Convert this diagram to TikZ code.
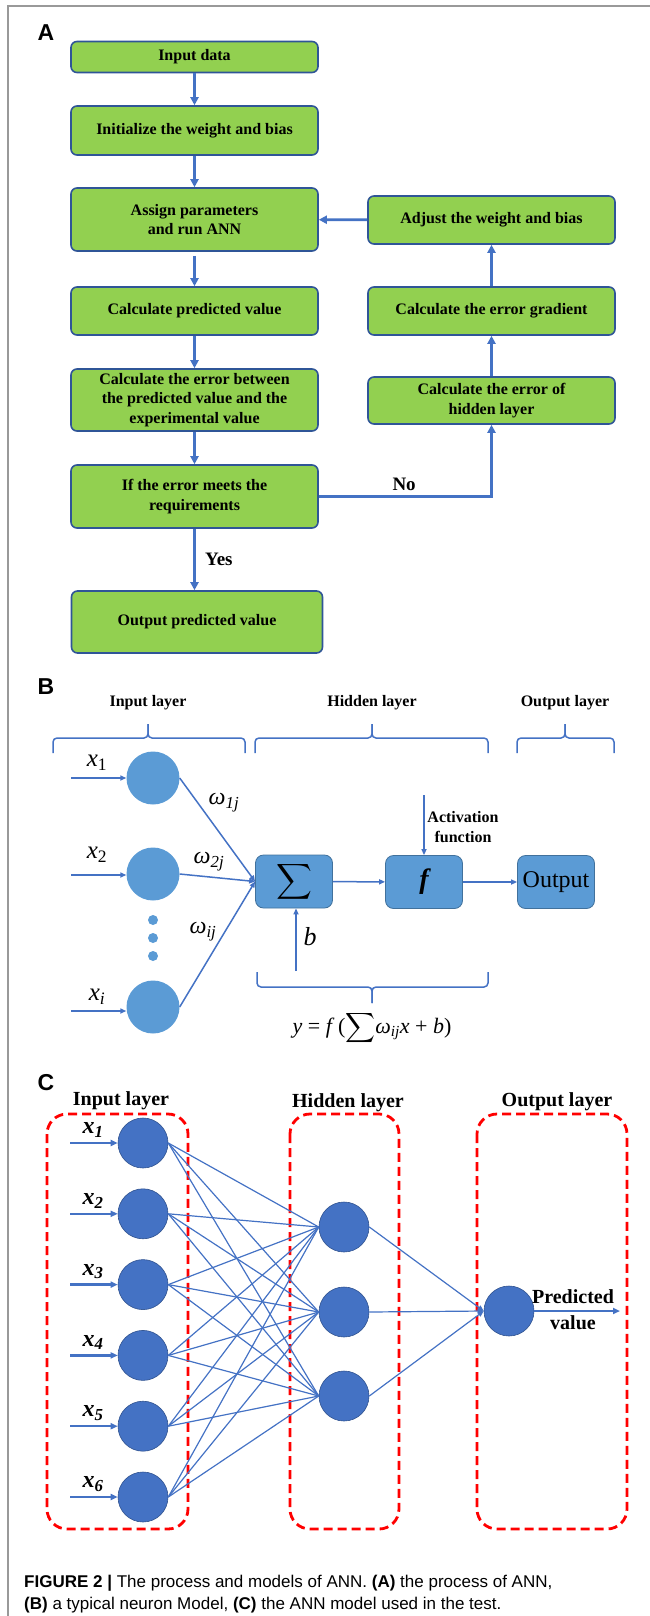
\documentclass[tikz,border=0pt]{standalone}
\usepackage{exscale}
\usepackage{fontspec}
\setmainfont{Liberation Serif}
\setsansfont{Liberation Sans}
\usetikzlibrary{arrows.meta}

\definecolor{agreen}{RGB}{146,208,80}
\definecolor{aborder}{RGB}{47,85,151}
\definecolor{ablue}{RGB}{68,114,196}
\definecolor{bfill}{RGB}{91,155,213}
\definecolor{bborder}{RGB}{65,113,156}
\definecolor{cborder}{RGB}{47,82,143}
\newcommand{\fsz}[2]{\fontsize{#1}{#2}\selectfont}

\tikzset{
  flowbox/.style={draw=aborder, fill=agreen, line width=1.6pt, rounded corners=6pt,
    align=center, inner sep=0pt, font=\bfseries\fsz{16}{19.5}},
  flowarr/.style={draw=ablue, line width=2.6pt, -{Triangle[length=8pt,width=8pt]}},
  bline/.style={draw=ablue, line width=1.5pt},
  barr/.style={bline, -{Triangle[length=6pt,width=5pt]}},
  bbox/.style={draw=bborder, fill=bfill, line width=0.8pt, rounded corners=8pt,
    minimum width=77pt, minimum height=53pt, inner sep=0pt},
  bneuron/.style={circle, fill=bfill, minimum size=53pt, inner sep=0pt},
  cneuron/.style={circle, draw=cborder, fill=ablue, line width=0.6pt, minimum size=50pt, inner sep=0pt},
  cline/.style={draw=ablue, line width=1.2pt},
  carr/.style={draw=ablue, line width=2.5pt, -{Triangle[length=7pt,width=6pt]}},
  layerbox/.style={draw=red, line width=2.8pt, dash pattern=on 9pt off 5pt, rounded corners=20pt},
  panel/.style={font=\sffamily\bfseries\fsz{23}{26}}
}

\begin{document}
\begin{tikzpicture}[x=1pt,y=-1pt]
\useasboundingbox (0,0) rectangle (650,1616);
\draw[gray!80, line width=1.5pt] (650,6) -- (8,6) -- (8,1616);

% (A) the process
\node[panel] (pa) at (46,33) {A};
\node[flowbox, minimum width=247pt, minimum height=31pt] (input) at (194.5,57) {Input data};
\node[flowbox, minimum width=247pt, minimum height=49pt] (init) at (194.5,130.5) {Initialize the weight and bias};
\node[flowbox, minimum width=247pt, minimum height=63pt] (assign) at (194.5,219.5) {Assign parameters\\and run ANN};
\node[flowbox, minimum width=247pt, minimum height=48pt] (calcpred) at (194.5,311) {Calculate predicted value};
\node[flowbox, minimum width=247pt, minimum height=62pt] (calcerr) at (194.5,400) {Calculate the error between\\the predicted value and the\\experimental value};
\node[flowbox, minimum width=247pt, minimum height=63pt] (ifbox) at (194.5,496.5) {If the error meets the\\requirements};
\node[flowbox, minimum width=251pt, minimum height=62pt] (outbox) at (197,622) {Output predicted value};
\node[flowbox, minimum width=247pt, minimum height=48pt] (adjust) at (491.5,220) {Adjust the weight and bias};
\node[flowbox, minimum width=247pt, minimum height=48pt] (gradient) at (491.5,311) {Calculate the error gradient};
\node[flowbox, minimum width=247pt, minimum height=47pt] (hidlayer) at (491.5,400.5) {Calculate the error of\\hidden layer};

\draw[flowarr] (input) -- (init);
\draw[flowarr] (init) -- (assign);
\draw[flowarr, shorten <=4pt] (assign) -- (calcpred);
\draw[flowarr] (calcpred) -- (calcerr);
\draw[flowarr] (calcerr) -- (ifbox);
\draw[flowarr] (ifbox.south) -- node[right=6pt, font=\bfseries\fsz{19}{22}] {Yes} (ifbox.south |- outbox.north);
\draw[flowarr] (ifbox.east) -| node[pos=0.247, above=1pt, font=\bfseries\fsz{19}{22}] {No} (hidlayer.south);
\draw[flowarr] (hidlayer) -- (gradient);
\draw[flowarr] (gradient) -- (adjust);
\draw[flowarr] (adjust) -- (assign);

% (B) a typical neuron
\node[panel] (pb) at (46,687) {B};
\node[font=\bfseries\fsz{16}{19}] (binl) at (148,703) {Input layer};
\node[font=\bfseries\fsz{16}{19}] (bhid) at (372,703) {Hidden layer};
\node[font=\bfseries\fsz{16}{19}] (bout) at (565,703) {Output layer};
\foreach \a/\m/\b in {53/148/245, 255/372/488, 517/565/614} {
  \draw[bline, rounded corners=4pt] (\a,753) -- (\a,738) -- (\m,738) -- (\m,724);
  \draw[bline, rounded corners=4pt] (\b,753) -- (\b,738) -- (\m,738) -- (\m,724);
}
\draw[bline, rounded corners=4pt] (257,972) -- (257,987) -- (372,987) -- (372,1003);
\draw[bline, rounded corners=4pt] (488,972) -- (488,987) -- (372,987) -- (372,1003);

\node[bneuron] (bn1) at (153,778) {};
\node[bneuron] (bn2) at (153,874) {};
\node[bneuron] (bni) at (153,1007) {};
\foreach \y in {920,938,956}
  \fill[bfill] (153,\y) circle (5pt);

\coordinate (bx1) at (71,778);
\coordinate (bx2) at (71,875);
\coordinate (bxi) at (71,1011);
\draw[barr] (bx1) -- (bn1.west);
\draw[barr] (bx2) -- (bn2.west |- bx2);
\draw[barr] (bxi) -- (bni.west |- bxi);
\node[font=\itshape\fsz{25}{28}] (lx1) at (97,763) {x\textsubscript{\upshape 1}};
\node[font=\itshape\fsz{25}{28}] (lx2) at (97,855) {x\textsubscript{\upshape 2}};
\node[font=\itshape\fsz{25}{28}] (lxi) at (97,997) {x\textsubscript{i}};

\node[bbox] (sum) at (294,881.5) {\fsz{24}{28}$\displaystyle\sum$};
\node[bbox] (fbox) at (424,882) {\fsz{28}{30}\bfseries\itshape f};
\node[bbox, font=\fsz{24}{28}] (outp) at (556,882) {Output};

\draw[barr] (bn1.east) -- (sum.west);
\draw[barr] (bn2.east) -- (sum.west);
\draw[barr] (bni.east) -- (sum.west);
\node[font=\itshape\fsz{24}{28}] (w1) at (224,803) {ω\textsubscript{1j}};
\node[font=\itshape\fsz{24}{28}] (w2) at (209,862) {ω\textsubscript{2j}};
\node[font=\itshape\fsz{24}{28}] (wi) at (203,932) {ω\textsubscript{ij}};

\draw[barr] (sum) -- (fbox);
\draw[barr] (fbox) -- (outp);
\coordinate (act) at (424,795);
\draw[barr] (act) -- (fbox.north);
\node[font=\bfseries\fsz{16}{20}, align=center] (actl) at (463,827) {Activation\\function};
\coordinate (bias) at (296,971);
\draw[barr] (bias) -- (bias |- sum.south);
\node[font=\itshape\fsz{26}{28}] (bl) at (310,937) {b};
\node[font=\fsz{22}{26}] (formula) at (372,1028)
  {\textit{y} = \textit{f}\,($\displaystyle\sum$\textit{ω}\textsubscript{\textit{ij}}\textit{x} + \textit{b})};

% (C) the ANN model
\node[panel] (pc) at (46,1083) {C};
\draw[layerbox] (47,1114) rectangle (188,1529);
\draw[layerbox] (290,1114) rectangle (399,1529);
\draw[layerbox] (477,1114) rectangle (627,1529);
\node[font=\bfseries\fsz{20}{24}] (cinl) at (121,1101) {Input layer};
\node[font=\bfseries\fsz{20}{24}] (chid) at (348,1103) {Hidden layer};
\node[font=\bfseries\fsz{20}{24}] (cout) at (557,1102) {Output layer};

\foreach \i in {1,...,6} {
  \node[cneuron] (ci\i) at (143,{1143+(\i-1)*70.8}) {};
  \coordinate (cx\i) at (70,{1143+(\i-1)*70.8});
  \draw[carr] (cx\i) -- (ci\i.west);
  \node[font=\bfseries\itshape\fsz{24}{28}] (lc\i) at (93,{1130+(\i-1)*70.8}) {x\textsubscript{\i}};
}
\node[cneuron] (ch1) at (344,1227) {};
\node[cneuron] (ch2) at (344,1312) {};
\node[cneuron] (ch3) at (344,1396) {};
\node[cneuron] (co) at (509,1311) {};
\foreach \i in {1,...,6}
  \foreach \j in {1,2,3}
    \draw[cline] (ci\i.east) -- (ch\j.west);
\foreach \j in {1,2,3}
  \draw[cline, -{Triangle[length=6pt,width=5pt]}] (ch\j.east) -- (co.west);
\coordinate (pred) at (620,1311);
\draw[carr] (co.east) -- (pred);
\node[font=\bfseries\fsz{20}{26}, align=center] (predl) at (573,1310) {Predicted\\value};

% caption
\node[anchor=base west, inner sep=0pt, font=\sffamily\fsz{17}{22}] (cap1) at (24,1587)
  {\textbf{FIGURE 2 |} The process and models of ANN. \textbf{(A)} the process of ANN,};
\node[anchor=base west, inner sep=0pt, font=\sffamily\fsz{17}{22}] (cap2) at (24,1609)
  {\textbf{(B)} a typical neuron Model, \textbf{(C)} the ANN model used in the test.};
\end{tikzpicture}
\end{document}
